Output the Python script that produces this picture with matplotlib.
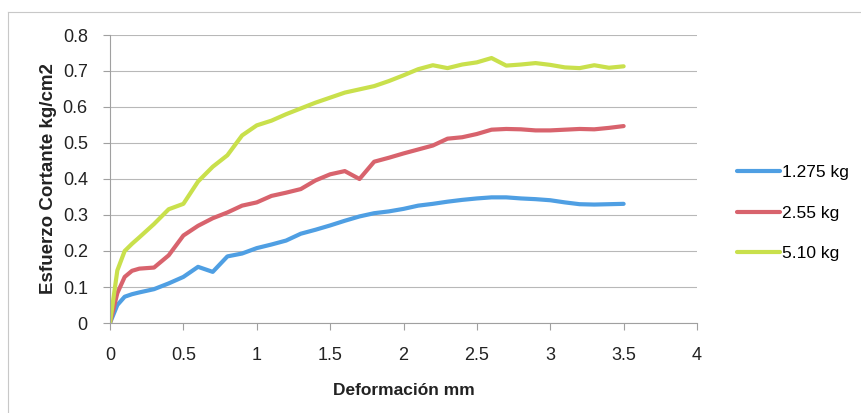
import matplotlib
matplotlib.use("Agg")
import matplotlib.pyplot as plt
from matplotlib.ticker import FuncFormatter, MultipleLocator
from matplotlib.lines import Line2D

# deformation (mm)
deformacion = [0, 0.05, 0.1, 0.15, 0.2,
               0.3, 0.4, 0.5, 0.6, 0.7, 0.8, 0.9, 1.0, 1.1, 1.2,
               1.3, 1.4, 1.5, 1.6, 1.7, 1.8, 1.9, 2.0, 2.1, 2.2,
               2.3, 2.4, 2.5, 2.6, 2.7, 2.8, 2.9, 3.0, 3.1, 3.2,
               3.3, 3.4, 3.5]

carga_1275 = [0, 0.05, 0.073, 0.08, 0.085,
              0.094, 0.11, 0.128, 0.156, 0.142, 0.185, 0.193, 0.208, 0.218, 0.229,
              0.248, 0.259, 0.271, 0.284, 0.296, 0.305, 0.31, 0.317, 0.326, 0.331,
              0.337, 0.342, 0.346, 0.349, 0.349, 0.346, 0.344, 0.341, 0.335, 0.330,
              0.329, 0.330, 0.331]

carga_255 = [0, 0.083, 0.128, 0.145, 0.151,
             0.154, 0.188, 0.243, 0.27, 0.291, 0.307, 0.326, 0.335, 0.353, 0.362,
             0.372, 0.396, 0.413, 0.422, 0.40, 0.448, 0.459, 0.471, 0.482, 0.493,
             0.512, 0.516, 0.525, 0.537, 0.539, 0.538, 0.535, 0.535, 0.537, 0.539,
             0.538, 0.542, 0.547]

carga_510 = [0, 0.146, 0.2, 0.22, 0.238,
             0.275, 0.316, 0.331, 0.393, 0.434, 0.466, 0.521, 0.549, 0.562, 0.58,
             0.596, 0.612, 0.626, 0.64, 0.649, 0.658, 0.672, 0.688, 0.705, 0.716,
             0.708, 0.718, 0.724, 0.736, 0.715, 0.718, 0.722, 0.717, 0.710, 0.708,
             0.716, 0.709, 0.713]

etiquetas = ['1.275 kg', '2.55 kg', '5.10 kg']
colores = ['#4f9fe3', '#d8636d', '#c9e04c']

plt.rcParams['font.family'] = ['Liberation Sans', 'DejaVu Sans']

fig = plt.figure(figsize=(8.61, 4.13), dpi=100)
ax = fig.add_axes([110 / 861, 1 - 323 / 413, 587 / 861, 288 / 413])

for serie, etiqueta, color in zip([carga_1275, carga_255, carga_510], etiquetas, colores):
    ax.plot(deformacion, serie, color=color, lw=3, label=etiqueta,
            solid_capstyle='round', solid_joinstyle='round')

ax.set_xlim(0, 4)
ax.set_ylim(0, 0.8)
ax.xaxis.set_major_locator(MultipleLocator(0.5))
ax.yaxis.set_major_locator(MultipleLocator(0.1))
fmt = FuncFormatter(lambda v, p: '{:g}'.format(round(v, 2)))
ax.xaxis.set_major_formatter(fmt)
ax.yaxis.set_major_formatter(fmt)

ax.grid(axis='y', color='#b8b8b8', lw=0.8)
ax.set_axisbelow(True)
for s in ['top', 'right']:
    ax.spines[s].set_visible(False)
for s in ['left', 'bottom']:
    ax.spines[s].set_color('#a0a0a0')
    ax.spines[s].set_linewidth(0.8)
ax.tick_params(axis='x', direction='out', length=5, color='#a0a0a0', labelsize=13,
               pad=12, labelcolor='#222222')
ax.tick_params(axis='y', direction='out', length=5, color='#a0a0a0', labelsize=13,
               pad=11, labelcolor='#222222')

ax.set_xlabel('Deformación mm', fontsize=12.5, fontweight='bold', labelpad=14,
              color='#222222')
ax.set_ylabel('Esfuerzo Cortante kg/cm2', fontsize=13.5, fontweight='bold', labelpad=4,
              color='#222222')

ax.legend(loc='center left', bbox_to_anchor=(730 / 861, 1 - 213 / 413),
          bbox_transform=fig.transFigure, frameon=False, fontsize=12.5,
          handlelength=2.5, handletextpad=0.1, labelspacing=1.45, borderaxespad=0)

# outer chart border
fig.add_artist(Line2D([8 / 861, 1], [1 - 12 / 413] * 2, transform=fig.transFigure,
                      color='#c8c8c8', lw=0.8))
fig.add_artist(Line2D([8 / 861] * 2, [0, 1 - 12 / 413], transform=fig.transFigure,
                      color='#c8c8c8', lw=0.8))

fig.savefig('out.png', dpi=100)
